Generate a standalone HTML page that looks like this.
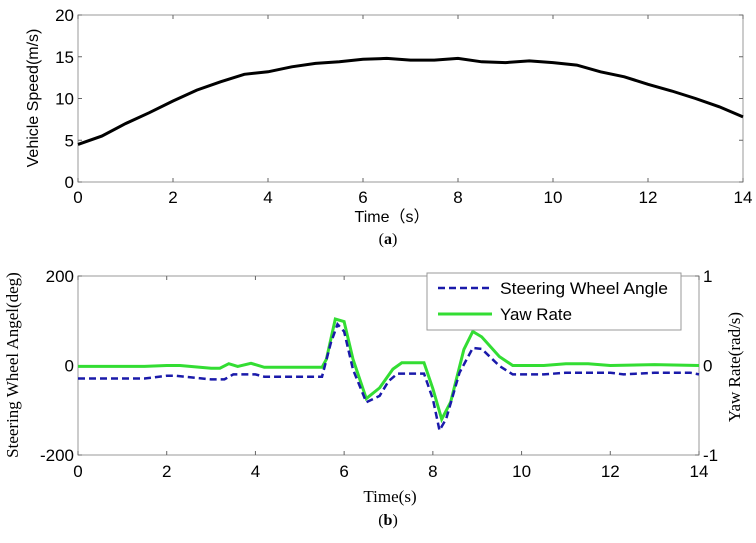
<!DOCTYPE html>
<html><head><meta charset="utf-8"><style>
body{margin:0;background:#fff;width:756px;height:538px;overflow:hidden}
svg text{font-family:"Liberation Sans",sans-serif;fill:#000}
.serif{font-family:"Liberation Serif",serif !important}
</style></head><body>
<svg id="chart" width="756" height="538"></svg>
<script>
const tTicks=[0,2,4,6,8,10,12,14];
const speedTicks=[0,5,10,15,20];
const steerTicks=[-200,0,200];
const yawTicks=[-1,0,1];
const speedT=[0,0.5,1,1.5,2,2.5,3,3.5,4,4.5,5,5.5,6,6.5,7,7.5,8,8.5,9,9.5,10,10.5,11,11.5,12,12.5,13,13.5,14];
const speedV=[4.5,5.5,7,8.3,9.7,11,12,12.9,13.2,13.8,14.2,14.4,14.7,14.8,14.6,14.6,14.8,14.4,14.3,14.5,14.3,14.0,13.2,12.6,11.7,10.9,10.0,9.0,7.8];
const steerT=[0,1.5,2,2.2,3,3.3,3.5,4,4.2,5.5,5.7,5.85,6.0,6.2,6.5,6.8,7.0,7.2,7.8,8.0,8.15,8.3,8.6,8.9,9.1,9.5,9.8,10.5,11,12,12.3,13,13.8,14];
const steerV=[-29,-29,-23,-23,-31,-31,-20,-20,-25,-25,50,92,76,-9,-82,-68,-35,-18,-18,-75,-145,-119,-16,39,37,-1,-20,-20,-16,-16,-20,-16,-16,-20];
const yawT=[0,1.5,2,2.3,3,3.2,3.4,3.6,3.9,4.2,5.5,5.6,5.8,6.0,6.2,6.5,6.8,7.1,7.3,7.8,8.0,8.2,8.4,8.7,8.9,9.1,9.5,9.8,10.5,11,11.5,12,13,14];
const yawV=[-0.01,-0.01,0,0,-0.03,-0.03,0.02,-0.01,0.025,-0.02,-0.02,0.07,0.52,0.49,0.07,-0.37,-0.25,-0.04,0.03,0.03,-0.26,-0.6,-0.41,0.18,0.38,0.32,0.1,0,0,0.02,0.02,0,0.01,0];

const svg=document.getElementById('chart');const NS='http://www.w3.org/2000/svg';
function mk(tag,attrs,parent){const e=document.createElementNS(NS,tag);for(const k in attrs)e.setAttribute(k,attrs[k]);(parent||svg).appendChild(e);return e;}
const AX0=78,AX1=743,BX0=78,BX1=699;
const xa=t=>AX0+(t/14)*(AX1-AX0);
const xb=t=>BX0+(t/14)*(BX1-BX0);
const A={top:15,bot:182};const B={top:276,bot:455};
const ya=v=>A.bot-(v/20)*(A.bot-A.top);
const yb=v=>B.bot-((v+200)/400)*(B.bot-B.top);
const yy=v=>B.bot-((v+1)/2)*(B.bot-B.top);
function line(ts,vs,xf,yf){return ts.map((t,i)=>(i?'L':'M')+xf(t).toFixed(1)+','+yf(vs[i]).toFixed(1)).join('');}

// Panel A
let r=mk('rect',{x:AX0,y:A.top,width:AX1-AX0,height:A.bot-A.top,fill:'none',stroke:'#999'});

tTicks.forEach(t=>{mk('line',{x1:xa(t),x2:xa(t),y1:A.bot,y2:A.bot-4,stroke:'#666'});mk('line',{x1:xa(t),x2:xa(t),y1:A.top,y2:A.top+4,stroke:'#666'});
 let tx=mk('text',{x:xa(t),y:A.bot+21,'text-anchor':'middle','font-size':17});tx.textContent=t;
 });
speedTicks.forEach(v=>{mk('line',{x1:AX0,x2:AX0+4,y1:ya(v),y2:ya(v),stroke:'#666'});mk('line',{x1:AX1,x2:AX1-4,y1:ya(v),y2:ya(v),stroke:'#666'});
 let tx=mk('text',{x:AX0-4,y:ya(v)+6,'text-anchor':'end','font-size':17});tx.textContent=v;
 });
let p=mk('path',{d:line(speedT,speedV,xa,ya),fill:'none',stroke:'#000','stroke-width':3});

let t1=mk('text',{x:38,y:98,'text-anchor':'middle','font-size':16,transform:'rotate(-90 38 98)'});t1.textContent='Vehicle Speed(m/s)';

let t2=mk('text',{x:392,y:222,'text-anchor':'middle','font-size':16});t2.textContent='Time（s）';

let t3=mk('text',{x:388,y:244,'text-anchor':'middle','font-size':16,class:'serif'});t3.innerHTML='(<tspan font-weight="bold">a</tspan>)';


// Panel B
r=mk('rect',{x:BX0,y:B.top,width:BX1-BX0,height:B.bot-B.top,fill:'none',stroke:'#999'});

tTicks.forEach(t=>{mk('line',{x1:xb(t),x2:xb(t),y1:B.bot,y2:B.bot-4,stroke:'#666'});mk('line',{x1:xb(t),x2:xb(t),y1:B.top,y2:B.top+4,stroke:'#666'});
 let tx=mk('text',{x:xb(t),y:B.bot+22,'text-anchor':'middle','font-size':17});tx.textContent=t;
 });
steerTicks.forEach(v=>{mk('line',{x1:BX0,x2:BX0+4,y1:yb(v),y2:yb(v),stroke:'#666'});
 let tx=mk('text',{x:BX0-4,y:yb(v)+6,'text-anchor':'end','font-size':17});tx.textContent=v;
 });
yawTicks.forEach(v=>{mk('line',{x1:BX1,x2:BX1-4,y1:yy(v),y2:yy(v),stroke:'#666'});
 let tx=mk('text',{x:BX1+4,y:yy(v)+6,'text-anchor':'start','font-size':17});tx.textContent=v;
 });
p=mk('path',{d:line(yawT,yawV,xb,yy),fill:'none',stroke:'#33dd33','stroke-width':3});

p=mk('path',{d:line(steerT,steerV,xb,yb),fill:'none',stroke:'#1a1aaa','stroke-width':2.5,'stroke-dasharray':'7,4'});

let g=mk('g',{});
mk('rect',{x:427,y:273,width:254,height:57,fill:'#fff',stroke:'#999'},g);
mk('line',{x1:438,x2:492,y1:288,y2:288,stroke:'#1a1aaa','stroke-width':2.5,'stroke-dasharray':'7,4'},g);
mk('line',{x1:438,x2:492,y1:314,y2:314,stroke:'#33dd33','stroke-width':3},g);
let l1=mk('text',{x:500,y:294,'font-size':17,textLength:168,lengthAdjust:'spacingAndGlyphs'},g);l1.textContent='Steering Wheel Angle';

let l2=mk('text',{x:500,y:320,'font-size':17,textLength:72,lengthAdjust:'spacingAndGlyphs'},g);l2.textContent='Yaw Rate';

let t4=mk('text',{x:18,y:365,'text-anchor':'middle','font-size':17,class:'serif',transform:'rotate(-90 18 365)'});t4.textContent='Steering Wheel Angel(deg)';

let t5=mk('text',{x:740,y:367,'text-anchor':'middle','font-size':17,class:'serif',transform:'rotate(-90 740 367)'});t5.textContent='Yaw Rate(rad/s)';

let t6=mk('text',{x:390,y:502,'text-anchor':'middle','font-size':17,class:'serif'});t6.textContent='Time(s)';

let t7=mk('text',{x:388,y:525,'text-anchor':'middle','font-size':16,class:'serif'});t7.innerHTML='(<tspan font-weight="bold">b</tspan>)';

</script>
</body></html>
